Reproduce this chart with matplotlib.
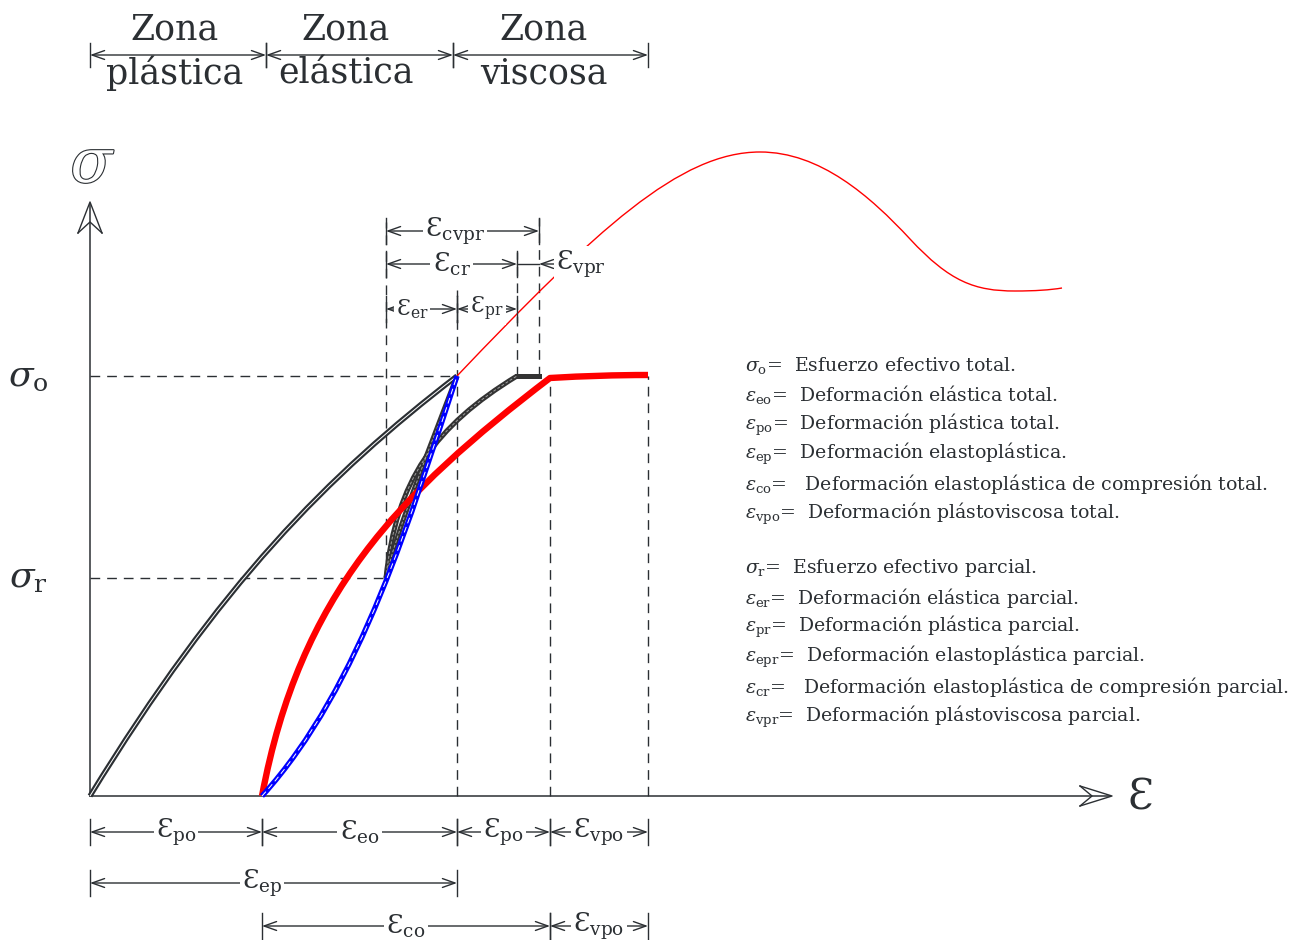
import numpy as np
import matplotlib

matplotlib.use("Agg")
import matplotlib.pyplot as plt
import matplotlib.patheffects as pe
from matplotlib.path import Path
from matplotlib.patches import PathPatch

plt.rcParams["font.family"] = ["DejaVu Serif"]
plt.rcParams["mathtext.fontset"] = "dejavuserif"

INK = "#2b2f33"

# strain marks along the axis (arbitrary units) and stress levels
eps_po = 1.72
eps_r = 2.96
eps_o = 3.67
eps_cr = 4.27
eps_cvpr = 4.49
eps_co = 4.60
eps_vpo = 5.58
sigma_o = 4.20
sigma_r = 2.18
zone_edges = [0.0, 1.76, 3.63, 5.58]
zone_label_x = [0.85, 2.56, 4.54]
zone_names = [("Zona", "plástica"), ("Zona", "elástica"), ("Zona", "viscosa")]

# curves as cubic Bezier nodes (start, ctrl, ctrl, end, ctrl, ctrl, end ...)
load_x = [0.0, 1.30, 2.37, 3.67]
load_y = [0.0, 2.12, 3.20, 4.20]

unload_x = [3.67, 3.42, 3.03, 2.96]
unload_y = [4.20, 3.55, 2.55, 2.18]

reload_x = [2.96, 3.06, 3.45, 4.27]
reload_y = [2.18, 3.16, 3.70, 4.20]
reload_top_x = [4.27, 4.49]
reload_top_y = [4.20, 4.20]

blue_x = [1.72, 2.72, 3.22, 3.67]
blue_y = [0.0, 1.10, 2.85, 4.20]

red_x = [1.72, 2.10, 3.08, 4.60, 4.95, 5.25, 5.58]
red_y = [0.0, 2.02, 3.02, 4.18, 4.20, 4.21, 4.21]

thin_x = [3.67, 5.07, 5.90, 6.70, 7.30, 7.80, 8.20, 8.60, 8.85, 9.25, 9.45, 9.60, 9.72]
thin_y = [4.20, 5.67, 6.44, 6.44, 6.44, 6.00, 5.57, 5.14, 5.05, 5.05, 5.05, 5.06, 5.08]

legend_total = [
    r"$\sigma_{\mathrm{o}}$=  Esfuerzo efectivo total.",
    r"$\varepsilon_{\mathrm{eo}}$=  Deformación elástica total.",
    r"$\varepsilon_{\mathrm{po}}$=  Deformación plástica total.",
    r"$\varepsilon_{\mathrm{ep}}$=  Deformación elastoplástica.",
    r"$\varepsilon_{\mathrm{co}}$=   Deformación elastoplástica de compresión total.",
    r"$\varepsilon_{\mathrm{vpo}}$=  Deformación plástoviscosa total.",
]
legend_partial = [
    r"$\sigma_{\mathrm{r}}$=  Esfuerzo efectivo parcial.",
    r"$\varepsilon_{\mathrm{er}}$=  Deformación elástica parcial.",
    r"$\varepsilon_{\mathrm{pr}}$=  Deformación plástica parcial.",
    r"$\varepsilon_{\mathrm{epr}}$=  Deformación elastoplástica parcial.",
    r"$\varepsilon_{\mathrm{cr}}$=   Deformación elastoplástica de compresión parcial.",
    r"$\varepsilon_{\mathrm{vpr}}$=  Deformación plástoviscosa parcial.",
]


def bezier(xs, ys):
    verts = np.column_stack([xs, ys])
    codes = [Path.MOVETO] + [Path.CURVE4] * (len(xs) - 1)
    return Path(verts, codes)


def curve(ax, xs, ys, color, lw, inner=None, inner_ls="-", z=3):
    path = bezier(xs, ys)
    ax.add_patch(PathPatch(path, fill=False, ec=color, lw=lw, zorder=z,
                           capstyle="butt", joinstyle="round"))
    if inner:
        ax.add_patch(PathPatch(path, fill=False, ec=inner, lw=0.7, ls=inner_ls, zorder=z + 0.1))


def eps(sub):
    return r"$\mathrm{Ɛ}_{\mathrm{%s}}$" % sub


def dim(ax, x0, x1, y, label=None, lx=None, fs=19, tick=0.13, style="<->"):
    ax.annotate("", xy=(x1, y), xytext=(x0, y),
                arrowprops=dict(arrowstyle=style + ",head_length=0.9,head_width=0.32",
                                color=INK, lw=1, shrinkA=0, shrinkB=0))
    for x in (x0, x1):
        ax.plot([x, x], [y - tick, y + tick], color=INK, lw=1)
    if label:
        ax.text((x0 + x1) / 2 if lx is None else lx, y, label, ha="center", va="center",
                fontsize=fs, color=INK, bbox=dict(fc="white", ec="none", pad=1.5))


fig = plt.figure(figsize=(13.07, 9.4), dpi=100)
ax = fig.add_axes([0, 0, 1, 1])
ax.set_xlim(-0.90, 12.17)
ax.set_ylim(-1.44, 7.96)
ax.axis("off")

# axes with open chevron heads
ax.plot([0, 0], [0, 5.92], color=INK, lw=1.1)
ax.plot([0, 10.2], [0, 0], color=INK, lw=1.1)
ax.plot([-0.12, 0, 0.12], [5.63, 5.94, 5.63], color=INK, lw=1)
ax.plot([-0.12, 0, 0.12], [5.63, 5.74, 5.63], color=INK, lw=1)
ax.plot([9.90, 10.22, 9.90], [0.10, 0, -0.10], color=INK, lw=1)
ax.plot([9.90, 10.02, 9.90], [0.10, 0, -0.10], color=INK, lw=1)
ax.text(0.03, 6.31, r"$\sigma$", fontsize=44, color="white", ha="center", va="center",
        path_effects=[pe.Stroke(linewidth=1.6, foreground=INK), pe.Normal()])
ax.text(10.50, -0.02, "Ɛ", fontsize=30, color=INK, ha="center", va="center")

# dashed guides
dash = dict(color=INK, lw=1, ls=(0, (7, 5)))
ax.plot([0, eps_o], [sigma_o, sigma_o], **dash)
ax.plot([0, eps_r], [sigma_r, sigma_r], **dash)
for x, y0, y1 in [(eps_r, sigma_r, 5.74), (eps_o, 0, 5.06), (eps_cr, sigma_o, 5.44),
                  (eps_cvpr, sigma_o, 5.78), (eps_co, 0, sigma_o - 0.04), (eps_vpo, 0, sigma_o)]:
    ax.plot([x, x], [y0, y1], **dash)

ax.text(-0.62, sigma_o, r"$\sigma_{\mathrm{o}}$", fontsize=26, color=INK, ha="center", va="center")
ax.text(-0.62, sigma_r, r"$\sigma_{\mathrm{r}}$", fontsize=26, color=INK, ha="center", va="center")

# curves
ax.add_patch(PathPatch(bezier(thin_x, thin_y), fill=False, ec="red", lw=1, zorder=2))
curve(ax, load_x, load_y, INK, 3.8, inner="white", z=3)
curve(ax, unload_x, unload_y, "#333333", 3.6, inner="#a0a0a0", inner_ls=(0, (3, 2)), z=3)
curve(ax, reload_x, reload_y, "#333333", 3.6, inner="#a0a0a0", inner_ls=(0, (3, 2)), z=3)
ax.plot(reload_top_x, reload_top_y, color="#333333", lw=3.6, zorder=3)
curve(ax, red_x, red_y, "red", 4.6, z=4)
curve(ax, blue_x, blue_y, "blue", 3.8, inner="white", inner_ls=(0, (6, 4)), z=5)

# zone headers
for (a, b), x0, x1, lx in zip(zone_names, zone_edges[:-1], zone_edges[1:], zone_label_x):
    dim(ax, x0, x1, 7.41, tick=0.12)
    ax.text(lx, 7.56, a, fontsize=25, color=INK, ha="center", va="baseline")
    ax.text(lx, 7.12, b, fontsize=25, color=INK, ha="center", va="baseline")

# dimensions above the peak
dim(ax, eps_r, eps_cvpr, 5.65, eps("cvpr"), lx=3.65)
dim(ax, eps_r, eps_cr, 5.32, eps("cr"))
ax.plot([eps_cr, eps_cvpr], [5.32, 5.32], color=INK, lw=1)
ax.annotate("", xy=(eps_cvpr, 5.32), xytext=(4.72, 5.32),
            arrowprops=dict(arrowstyle="->,head_length=0.9,head_width=0.32",
                            color=INK, lw=1, shrinkA=0, shrinkB=0))
ax.text(4.66, 5.32, eps("vpr"), fontsize=19, color=INK, ha="left", va="center",
        bbox=dict(fc="white", ec="none", pad=1.5))
dim(ax, eps_r, eps_o, 4.87, eps("er"), lx=3.22, fs=16)
dim(ax, eps_o, eps_cr, 4.87, eps("pr"), fs=16)

# dimensions below the strain axis
dim(ax, 0, eps_po, -0.36, eps("po"))
dim(ax, eps_po, eps_o, -0.36, eps("eo"))
dim(ax, eps_o, eps_co, -0.36, eps("po"))
dim(ax, eps_co, eps_vpo, -0.36, eps("vpo"))
dim(ax, 0, eps_o, -0.87, eps("ep"), lx=1.72)
dim(ax, eps_po, eps_co, -1.30, eps("co"))
dim(ax, eps_co, eps_vpo, -1.30, eps("vpo"))

# legend text
for i, line in enumerate(legend_total):
    ax.text(6.55, 4.31 - 0.297 * i, line, fontsize=13.6, color=INK, ha="left", va="center")
for i, line in enumerate(legend_partial):
    ax.text(6.55, 2.28 - 0.297 * i, line, fontsize=13.6, color=INK, ha="left", va="center")

fig.savefig("out.png", dpi=100)
